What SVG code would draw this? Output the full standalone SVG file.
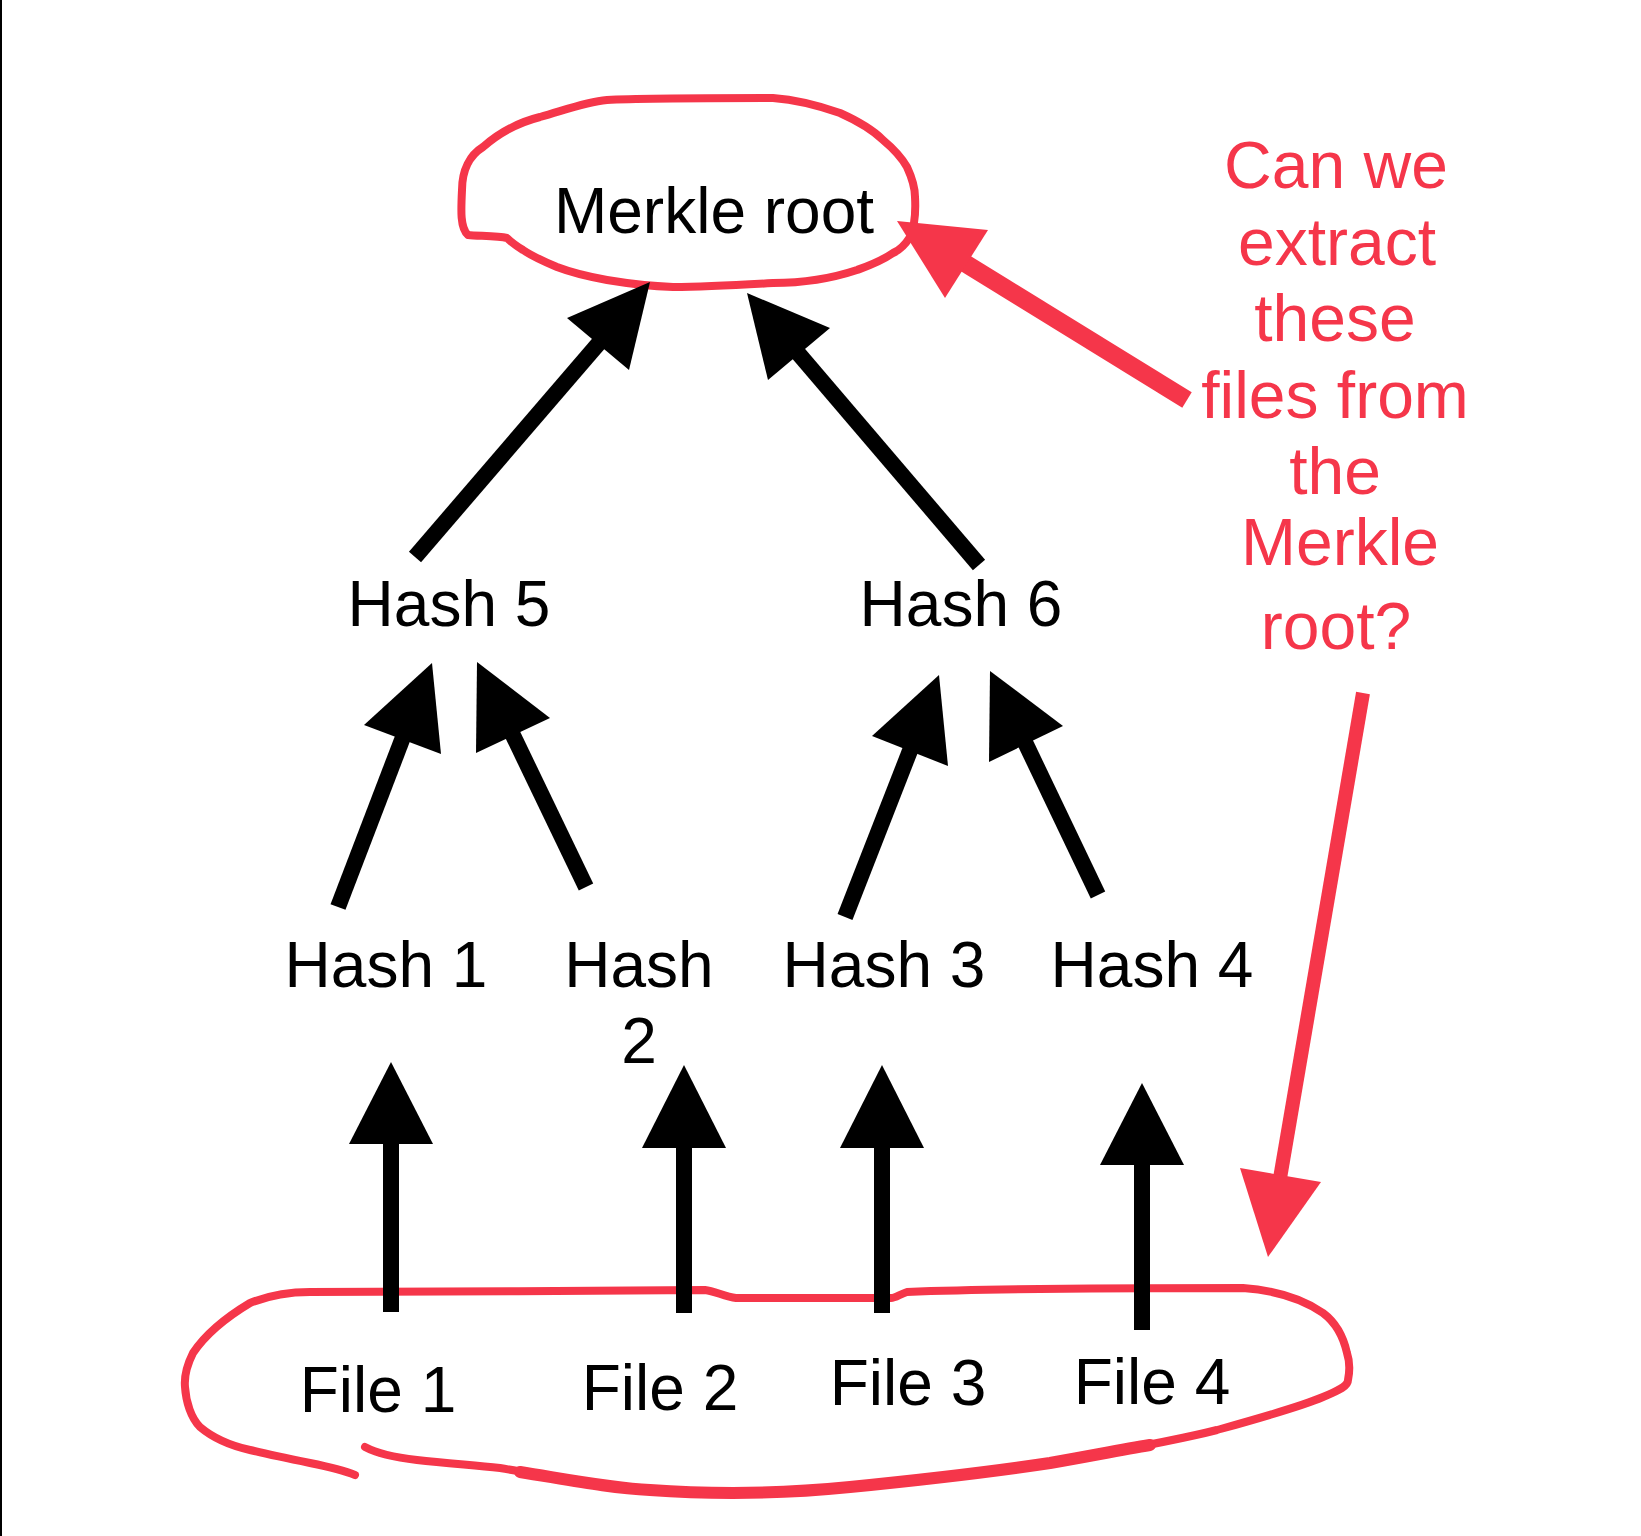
<svg xmlns="http://www.w3.org/2000/svg" width="1641" height="1536" viewBox="0 0 1641 1536">
  <style>
    .lbl { font-family: "Liberation Sans", Arial, sans-serif; font-size: 64px; fill: #000; text-anchor: middle; }
    .note { font-family: "Liberation Sans", Arial, sans-serif; font-size: 66px; fill: #f5364a; text-anchor: middle; }
    .shaft { stroke: #000; stroke-width: 16; stroke-linecap: butt; fill: none; }
    .head { fill: #000; stroke: none; }
    .redline { stroke: #f5364a; fill: none; stroke-linecap: round; stroke-linejoin: round; }
    .redhead { fill: #f5364a; stroke: none; }
  </style>
  <rect x="0" y="0" width="1641" height="1536" fill="#ffffff"/>
  <rect x="0" y="0" width="2" height="1536" fill="#000000"/>

  <!-- hand-drawn red annotations -->
  <g id="root-circle">
    <path class="redline" stroke-width="8" d="M507,238 C498,236 478,236 468,235 C460,228 461,210 462,190 C462,170 470,155 483,147 C500,132 520,122 540,117 C565,110 585,102 607,100 C640,98 700,98 773,98 C800,100 820,106 840,113 C860,122 873,130 883,140 C895,150 903,160 907,167 C913,180 915,190 915,197 C916,215 914,228 910,237 C905,245 900,250 893,253 C880,262 868,266 857,270 C830,279 800,283 773,283 C740,285 700,287 673,287 C645,286 625,283 607,280 C585,276 570,272 557,267 C545,262 532,256 523,250 C515,245 510,241 507,238 Z"/>
  </g>
  <g id="files-loop">
    <path class="redline" stroke-width="8" d="M365,1447 C380,1455 400,1458 417,1460 C445,1463 470,1465 500,1468 C560,1478 610,1488 650,1490 C690,1493 710,1493 733,1493 C780,1493 820,1490 850,1487 C920,1480 990,1472 1050,1463 C1110,1452 1170,1442 1217,1430 C1260,1418 1300,1407 1323,1397 C1340,1390 1348,1386 1348,1380 C1350,1370 1350,1362 1347,1353 C1343,1335 1335,1322 1323,1313 C1300,1297 1270,1290 1243,1288 C1100,1288 960,1290 907,1292 C900,1294 896,1298 891,1298 C850,1298 780,1298 736,1298 C725,1297 715,1291 705,1290 C600,1291 400,1292 310,1292 C285,1292 265,1297 250,1303 C225,1318 205,1335 193,1353 C187,1365 184,1376 185,1387 C186,1402 191,1418 200,1427 C213,1438 232,1446 250,1450 C270,1455 290,1459 310,1463 C330,1467 343,1470 355,1475"/>
    <path class="redline" stroke-width="12" d="M520,1472 C570,1480 610,1488 650,1490 C690,1493 710,1493 733,1493 C780,1493 820,1490 850,1487 C920,1480 990,1472 1050,1463 C1090,1456 1120,1450 1150,1445"/>
  </g>
  <g id="note-arrow-root">
    <line class="redline" stroke-width="18" style="stroke-linecap:butt" x1="1187" y1="400" x2="955" y2="257"/>
    <polygon class="redhead" points="897,221 988,230 945,298"/>
  </g>
  <g id="note-arrow-files">
    <line class="redline" stroke-width="14" style="stroke-linecap:butt" x1="1363" y1="693" x2="1278" y2="1190"/>
    <polygon class="redhead" points="1268,1257 1240,1168 1321,1182"/>
  </g>

  <!-- nodes -->
  <g id="node-merkle-root"><text class="lbl" x="714" y="233" font-size="63">Merkle root</text></g>
  <g id="node-hash5"><text class="lbl" x="449" y="626">Hash 5</text></g>
  <g id="node-hash6"><text class="lbl" x="961" y="626">Hash 6</text></g>
  <g id="node-hash1"><text class="lbl" x="386" y="987">Hash 1</text></g>
  <g id="node-hash2"><text class="lbl" x="639" y="987">Hash</text><text class="lbl" x="639" y="1063">2</text></g>
  <g id="node-hash3"><text class="lbl" x="884" y="987">Hash 3</text></g>
  <g id="node-hash4"><text class="lbl" x="1152" y="987">Hash 4</text></g>
  <g id="node-file1"><text class="lbl" x="378" y="1412">File 1</text></g>
  <g id="node-file2"><text class="lbl" x="660" y="1410">File 2</text></g>
  <g id="node-file3"><text class="lbl" x="908" y="1405">File 3</text></g>
  <g id="node-file4"><text class="lbl" x="1152" y="1404">File 4</text></g>

  <g id="note-text">
    <text class="note" x="1336" y="188">Can we</text>
    <text class="note" x="1337" y="265">extract</text>
    <text class="note" x="1335" y="341">these</text>
    <text class="note" x="1335" y="418">files from</text>
    <text class="note" x="1335" y="494">the</text>
    <text class="note" x="1340" y="565" font-size="64">Merkle</text>
    <text class="note" x="1336" y="649">root?</text>
  </g>

  <!-- connectors -->
  <g id="connectors">
    <line class="shaft" x1="415" y1="557" x2="605" y2="336"/>
    <polygon class="head" points="650,282 567,318 629,370"/>
    <line class="shaft" x1="979" y1="565" x2="792" y2="346"/>
    <polygon class="head" points="747,293 830,328 768,380"/>
    <line class="shaft" x1="338" y1="907" x2="405" y2="732"/>
    <polygon class="head" points="432,663 364,725 441,754"/>
    <line class="shaft" x1="586" y1="887" x2="509" y2="727"/>
    <polygon class="head" points="477,662 550,718 476,753"/>
    <line class="shaft" x1="845" y1="917" x2="913" y2="743"/>
    <polygon class="head" points="939,675 872,736 948,766"/>
    <line class="shaft" x1="1098" y1="895" x2="1022" y2="736"/>
    <polygon class="head" points="990,671 1063,726 989,762"/>
    <line class="shaft" x1="391" y1="1312" x2="391" y2="1138"/>
    <polygon class="head" points="391,1062 349,1144 433,1144"/>
    <line class="shaft" x1="684" y1="1313" x2="684" y2="1142"/>
    <polygon class="head" points="684,1065 642,1148 726,1148"/>
    <line class="shaft" x1="882" y1="1313" x2="882" y2="1142"/>
    <polygon class="head" points="882,1065 840,1148 924,1148"/>
    <line class="shaft" x1="1142" y1="1330" x2="1142" y2="1159"/>
    <polygon class="head" points="1142,1083 1100,1165 1184,1165"/>
  </g>
</svg>
